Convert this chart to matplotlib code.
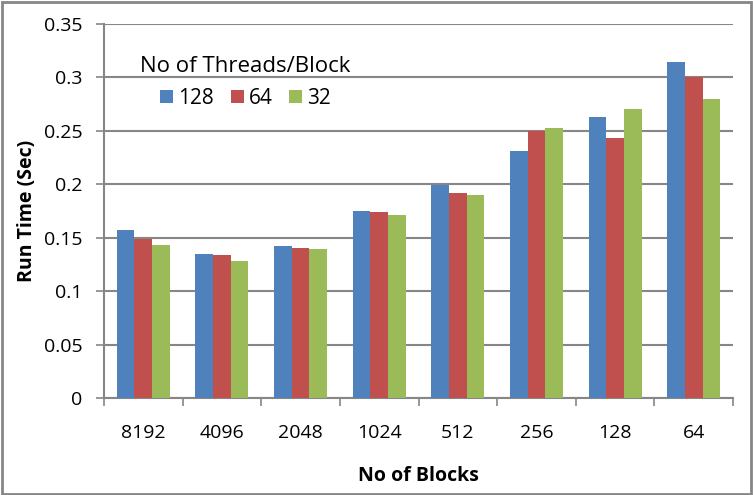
import numpy as np
import matplotlib
matplotlib.use("Agg")
import matplotlib.pyplot as plt
from matplotlib.patches import Rectangle

# dados
blocos = ["8192", "4096", "2048", "1024", "512", "256", "128", "64"]
threads = ["128", "64", "32"]
t128 = [0.157, 0.135, 0.142, 0.175, 0.199, 0.231, 0.263, 0.314]
t64 = [0.149, 0.134, 0.140, 0.174, 0.192, 0.250, 0.243, 0.300]
t32 = [0.143, 0.128, 0.139, 0.171, 0.190, 0.253, 0.270, 0.280]
yticks = [0, 0.05, 0.1, 0.15, 0.2, 0.25, 0.3, 0.35]

cores = ["#4F81BD", "#C0504D", "#9BBB59"]
cinza = "#868686"

plt.rcParams['font.family'] = ['Open Sans', 'DejaVu Sans']

W, H = 753, 495
fig = plt.figure(figsize=(W / 100, H / 100), dpi=100)
ax = fig.add_axes([104 / W, 1 - 398 / H, 629 / W, 374 / H])

x = np.arange(len(blocos))
w = 0.225
for i, (serie, nome) in enumerate(zip([t128, t64, t32], threads)):
    ax.bar(x + (i - 1) * w, serie, width=w, color=cores[i], label=nome, zorder=3)

ax.set_xlim(-0.5, len(blocos) - 0.5)
ax.set_ylim(0, 0.35)
ax.set_yticks(yticks)
ax.set_yticklabels(["0", "0.05", "0.1", "0.15", "0.2", "0.25", "0.3", "0.35"])
ax.set_xticks(x)
ax.set_xticklabels(blocos)
ax.set_xticks(np.arange(len(blocos) + 1) - 0.5, minor=True)

ax.grid(axis='y', color=cinza, linewidth=1.5, zorder=0)
ax.tick_params(axis='y', length=6, width=1.2, color=cinza, pad=9.5, labelsize=14)
ax.tick_params(axis='x', which='major', length=0, pad=19, labelsize=14)
ax.tick_params(axis='x', which='minor', length=6, width=1.2, color=cinza)

for lado in ['top', 'right']:
    ax.spines[lado].set_visible(False)
for lado in ['left', 'bottom']:
    ax.spines[lado].set_color(cinza)
    ax.spines[lado].set_linewidth(1.5)

ax.set_ylabel("Run Time (Sec)", fontsize=14, fontweight='bold')
ax.yaxis.set_label_coords(-67 / 629, 0.5)
ax.set_xlabel("No of Blocks", fontsize=14, fontweight='bold')
ax.xaxis.set_label_coords(0.5, -68 / 374)

# fundo branco da legenda (corta a linha de grade)
ax.add_patch(Rectangle((143 / W, 1 - 110 / H), 180 / W, 70 / H, transform=fig.transFigure,
                       facecolor='white', edgecolor='none', zorder=1, clip_on=False))

leg = ax.legend(title="No of Threads/Block", ncol=3, loc='upper left',
                bbox_to_anchor=(130 / W, 1 - 46 / H), bbox_transform=fig.transFigure,
                fontsize=15, title_fontsize=16, frameon=False,
                handlelength=0.63, handleheight=0.53, handletextpad=0.24,
                columnspacing=0.8, borderpad=0, labelspacing=0.5)
leg.set_zorder(5)

# borda externa do grafico
fig.patches.append(Rectangle((0.002, 0.003), 0.995, 0.993, transform=fig.transFigure,
                             fill=False, edgecolor=cinza, linewidth=2))

fig.savefig("out.png", dpi=100)
